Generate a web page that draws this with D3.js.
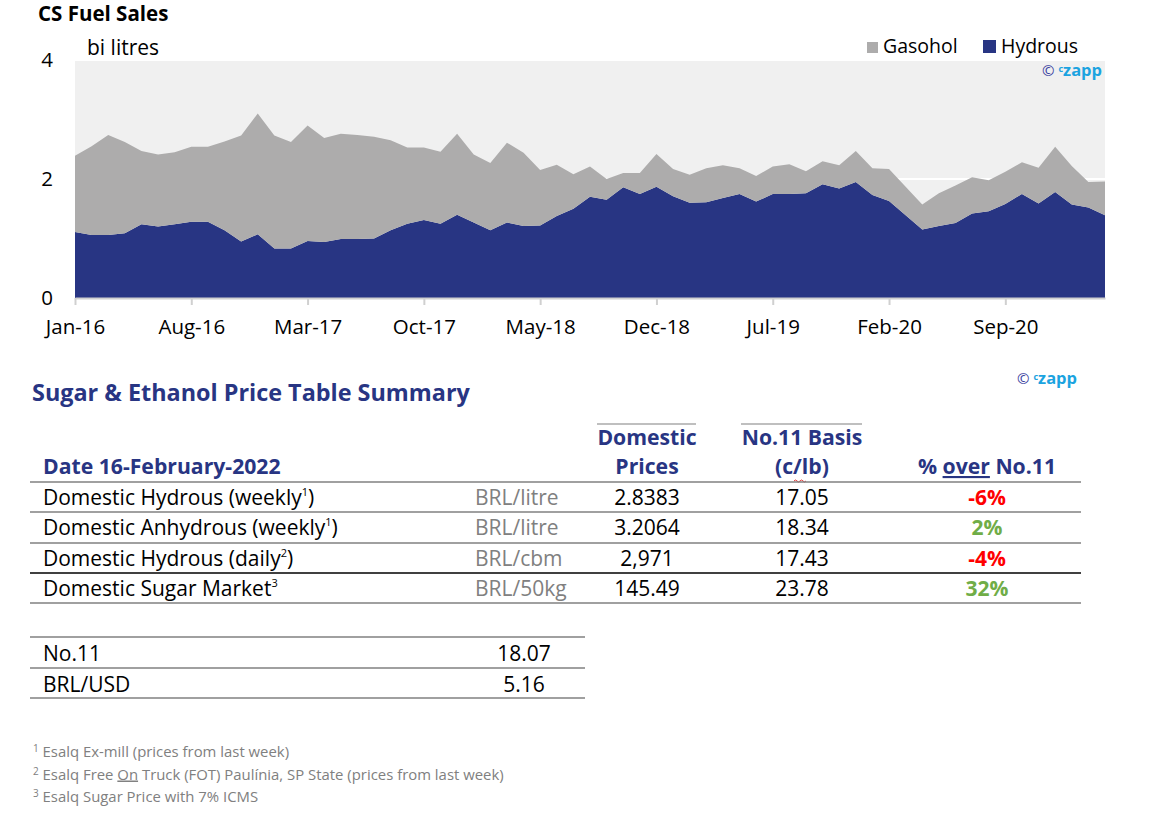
<!DOCTYPE html>
<html>
<head>
<meta charset="utf-8">
<script src="https://cdn.jsdelivr.net/npm/d3@7/dist/d3.min.js"></script>
<style>
  html, body { margin: 0; padding: 0; background: #ffffff; }
  svg { display: block; font-family: "Open Sans", "Noto Sans", sans-serif; }
</style>
</head>
<body>
<svg id="chart" width="1155" height="823"></svg>
<script>
// ---------------- Data ----------------
const startMonth = new Date(2016, 0, 1);
const monthCount = 63; // Jan-16 .. Mar-21
const hydrous = [1.11,1.06,1.06,1.09,1.24,1.20,1.24,1.28,1.28,1.14,0.95,1.07,0.83,0.83,0.96,0.94,0.99,0.99,1.00,1.14,
  1.25,1.31,1.25,1.40,1.27,1.14,1.27,1.21,1.22,1.38,1.50,1.70,1.65,1.86,1.75,1.87,1.71,1.60,1.61,1.68,
  1.75,1.62,1.75,1.75,1.76,1.91,1.84,1.95,1.73,1.63,1.39,1.15,1.21,1.26,1.42,1.46,1.58,1.75,1.59,1.78,
  1.57,1.52,1.39];
const gasohol = [1.28,1.49,1.68,1.53,1.23,1.21,1.21,1.26,1.26,1.49,1.78,2.03,1.90,1.79,1.94,1.75,1.77,1.75,1.71,1.51,
  1.28,1.22,1.21,1.36,1.14,1.13,1.34,1.23,0.93,0.86,0.58,0.51,0.35,0.24,0.35,0.55,0.46,0.47,0.57,0.55,
  0.43,0.43,0.46,0.50,0.37,0.39,0.39,0.52,0.45,0.54,0.48,0.42,0.55,0.63,0.61,0.52,0.54,0.53,0.60,0.76,
  0.65,0.43,0.57];
const yTicks = [0, 2, 4];
const xTickIndex = [0, 7, 14, 21, 28, 35, 42, 49, 56];
const seriesNames = ["Hydrous", "Gasohol"];
const seriesColors = ["#283583", "#adacac"];

const tableHeader = ["Date 16-February-2022", "", "Domestic|Prices", "No.11 Basis|(c/lb)", "% over No.11"];
const rowLabels = ["Domestic Hydrous (weekly", "Domestic Anhydrous (weekly", "Domestic Hydrous (daily", "Domestic Sugar Market"];
const rowSup = ["1", "1", "2", "3"];
const rowSupClose = [")", ")", ")", ""];
const rowUnits = ["BRL/litre", "BRL/litre", "BRL/cbm", "BRL/50kg"];
const rowDomestic = ["2.8383", "3.2064", "2,971", "145.49"];
const rowBasis = ["17.05", "18.34", "17.43", "23.78"];
const rowPct = [-6, 2, -4, 32];
const miniLabels = ["No.11", "BRL/USD"];
const miniValues = ["18.07", "5.16"];
const footnotes = [["1", "Esalq Ex-mill (prices from last week)"],
                   ["2", "Esalq Free On Truck (FOT) Paulínia, SP State (prices from last week)"],
                   ["3", "Esalq Sugar Price with 7% ICMS"]];

// ---------------- Chart ----------------
const svg = d3.select("#chart");
const navy = "#283583";
const months = d3.range(monthCount).map(i => d3.timeMonth.offset(startMonth, i));
const fmt = d3.timeFormat("%b-%y");
const data = months.map((d, i) => ({ i, Hydrous: hydrous[i], Gasohol: gasohol[i] }));

const x = d3.scaleLinear().domain([0, monthCount - 1]).range([75, 1105]);
const y = d3.scaleLinear().domain([0, 4]).range([298, 60]);

svg.append("text").attr("x", 38).attr("y", 21).attr("font-size", 20.5).attr("font-weight", 700)
  .attr("fill", "#000").text("CS Fuel Sales");

// plot background
svg.append("rect").attr("x", x.range()[0]).attr("y", y(4)).attr("width", x.range()[1] - x.range()[0])
  .attr("height", y(0) - y(4)).attr("fill", "#f0f0f0");

// gridlines
svg.append("g").selectAll("line").data(yTicks).join("line")
  .attr("x1", x.range()[0]).attr("x2", x.range()[1])
  .attr("y1", d => y(d)).attr("y2", d => y(d))
  .attr("stroke", "#ffffff").attr("stroke-width", 2);

const stack = d3.stack().keys(seriesNames);
const stacked = stack(data);
const area = d3.area().x(d => x(d.data.i)).y0(d => y(d[0])).y1(d => y(d[1]));
svg.append("g").selectAll("path").data(stacked).join("path")
  .attr("d", area).attr("fill", (d, k) => seriesColors[k]);

// x axis
const xAxis = d3.axisBottom(x).tickValues(xTickIndex).tickFormat(i => fmt(months[i]))
  .tickSize(7).tickSizeOuter(0).tickPadding(14);
const gx = svg.append("g").attr("transform", `translate(0,${y(0)})`).call(xAxis);
gx.select(".domain").attr("stroke", "#d0d0d0").attr("stroke-width", 2);
gx.selectAll(".tick line").attr("stroke", "#d0d0d0").attr("stroke-width", 2);
gx.selectAll(".tick text").attr("font-size", 20.5).attr("fill", "#000")
  .attr("font-family", "'Open Sans', sans-serif");

// y axis
const yAxis = d3.axisLeft(y).tickValues(yTicks).tickFormat(d3.format("d")).tickSize(0).tickPadding(22);
const gy = svg.append("g").attr("transform", `translate(${x.range()[0]},0)`).call(yAxis);
gy.select(".domain").remove();
gy.selectAll(".tick text").attr("font-size", 20.5).attr("fill", "#000")
  .attr("font-family", "'Open Sans', sans-serif");

svg.append("text").attr("x", 87).attr("y", 55).attr("font-size", 21).attr("fill", "#000").text("bi litres");

// legend
const legendItems = [{ name: "Gasohol", color: seriesColors[1], x: 867, size: 11, sy: 42 },
                     { name: "Hydrous", color: seriesColors[0], x: 983, size: 13, sy: 40 }];
const lg = svg.append("g");
legendItems.forEach(it => {
  lg.append("rect").attr("x", it.x).attr("y", it.sy).attr("width", it.size).attr("height", it.size).attr("fill", it.color);
  lg.append("text").attr("x", it.x + it.size + 5).attr("y", 53).attr("font-size", 19.5).attr("fill", "#000").text(it.name);
});

function czapp(xr, yb) {
  const t = svg.append("text").attr("x", xr).attr("y", yb).attr("text-anchor", "end").attr("font-weight", 700);
  t.append("tspan").attr("font-size", 15).attr("fill", "#3a3ea0").attr("font-weight", 400).text("© ");
  t.append("tspan").attr("font-size", 9).attr("fill", "#1ba3e0").attr("dy", -4).text("c");
  t.append("tspan").attr("font-size", 16.5).attr("fill", "#1ba3e0").attr("dy", 4).text("zapp");
}
czapp(1102, 76);

// ---------------- Table ----------------
svg.append("text").attr("x", 32).attr("y", 401).attr("font-size", 23.4).attr("font-weight", 700)
  .attr("fill", navy).text("Sugar & Ethanol Price Table Summary");
czapp(1077, 384);

const colDom = 647, colBasis = 802, colPct = 987;
// header over-lines
svg.append("line").attr("x1", 597).attr("x2", 696).attr("y1", 424).attr("y2", 424).attr("stroke", "#bfbfbf").attr("stroke-width", 2);
svg.append("line").attr("x1", 741).attr("x2", 862).attr("y1", 424).attr("y2", 424).attr("stroke", "#bfbfbf").attr("stroke-width", 2);

const hdr = svg.append("g").attr("font-size", 21.2).attr("font-weight", 700).attr("fill", navy);
hdr.append("text").attr("x", 43).attr("y", 474).text(tableHeader[0]);
[[colDom, tableHeader[2]], [colBasis, tableHeader[3]]].forEach(([cx, txt]) => {
  const parts = txt.split("|");
  hdr.append("text").attr("x", cx).attr("y", 445).attr("text-anchor", "middle").text(parts[0]);
  hdr.append("text").attr("x", cx).attr("y", 474).attr("text-anchor", "middle").text(parts[1]);
});
const pctHdr = hdr.append("text").attr("x", colPct).attr("y", 474).attr("text-anchor", "middle");
pctHdr.append("tspan").text("% ");
pctHdr.append("tspan").text("over").attr("text-decoration", "underline");
pctHdr.append("tspan").text(" No.11");
// red wavy mark under "lb"
svg.append("path").attr("d", "M794,481 q1.5,-2 3,0 t3,0 t3,0 t3,0").attr("fill", "none").attr("stroke", "#e03030").attr("stroke-width", 1);

const rowLineY = [482, 512, 543, 573, 603];
const rowLineColor = ["#808080", "#808080", "#808080", "#000000", "#808080"];
svg.append("g").selectAll("line").data(rowLineY).join("line")
  .attr("x1", 30).attr("x2", 1081).attr("y1", d => d).attr("y2", d => d)
  .attr("stroke", (d, i) => rowLineColor[i]).attr("stroke-width", 1.3);

const rows = svg.append("g").attr("font-size", 21);
rowLabels.forEach((lab, i) => {
  const yb = rowLineY[i] + 23;
  const t = rows.append("text").attr("x", 43).attr("y", yb).attr("fill", "#000");
  t.append("tspan").text(lab);
  t.append("tspan").attr("font-size", 11).attr("dy", -9).text(rowSup[i]);
  t.append("tspan").attr("dy", 9).text(rowSupClose[i]);
  rows.append("text").attr("x", 475).attr("y", yb).attr("fill", "#808080").text(rowUnits[i]);
  rows.append("text").attr("x", colDom).attr("y", yb).attr("text-anchor", "middle").attr("fill", "#000").text(rowDomestic[i]);
  rows.append("text").attr("x", colBasis).attr("y", yb).attr("text-anchor", "middle").attr("fill", "#000").text(rowBasis[i]);
  rows.append("text").attr("x", colPct).attr("y", yb).attr("text-anchor", "middle").attr("font-weight", 700)
    .attr("fill", rowPct[i] < 0 ? "#ff0000" : "#70ad47").text(rowPct[i] + "%");
});

// mini table
const miniLineY = [637, 668, 698];
svg.append("g").selectAll("line").data(miniLineY).join("line")
  .attr("x1", 30).attr("x2", 585).attr("y1", d => d).attr("y2", d => d)
  .attr("stroke", "#808080").attr("stroke-width", 1.3);
miniLabels.forEach((lab, i) => {
  const yb = miniLineY[i] + 24;
  svg.append("text").attr("x", 43).attr("y", yb).attr("font-size", 21).attr("fill", "#000").text(lab);
  svg.append("text").attr("x", 524).attr("y", yb).attr("font-size", 21).attr("text-anchor", "middle").attr("fill", "#000").text(miniValues[i]);
});

// footnotes
footnotes.forEach((f, i) => {
  const t = svg.append("text").attr("x", 33).attr("y", 757 + i * 22.5).attr("font-size", 14.9).attr("fill", "#808080");
  t.append("tspan").attr("font-size", 10).attr("dy", -5).text(f[0]);
  const txt = f[1];
  if (txt.includes(" On ")) {
    const [a, b] = txt.split(" On ");
    t.append("tspan").attr("dy", 5).text(" " + a + " ");
    t.append("tspan").attr("text-decoration", "underline").text("On");
    t.append("tspan").text(" " + b);
  } else {
    t.append("tspan").attr("dy", 5).text(" " + txt);
  }
});
</script>
</body>
</html>
